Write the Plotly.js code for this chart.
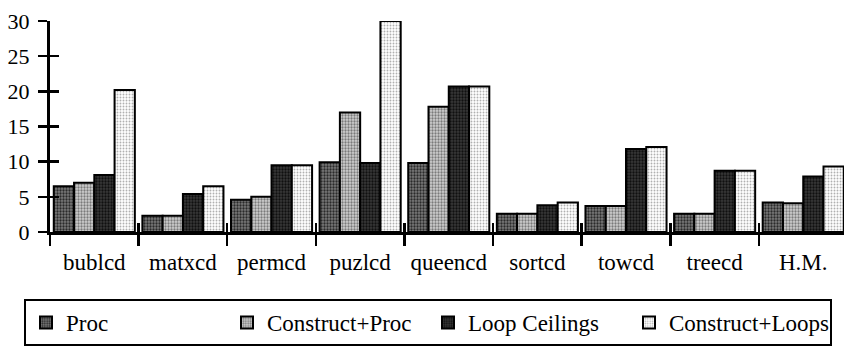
<!DOCTYPE html>
<html>
<head>
<meta charset="utf-8">
<script src="https://cdn.plot.ly/plotly-3.0.1.min.js"></script>
<style>
  html, body { margin: 0; padding: 0; background: #fff; overflow: hidden; }
  #chart { width: 844px; height: 351px; }
</style>
</head>
<body>
<div id="chart"></div>
<script>
// Benchmarks along the x axis
const categories = ['bublcd', 'matxcd', 'permcd', 'puzlcd', 'queencd', 'sortcd', 'towcd', 'treecd', 'H.M.'];

// One value per benchmark for each configuration
const proc           = [6.5, 2.3, 4.6,  9.9,  9.8, 2.6, 3.7,  2.6, 4.2];
const constructProc  = [7.0, 2.3, 5.0, 17.0, 17.8, 2.6, 3.7,  2.6, 4.1];
const loopCeilings   = [8.1, 5.4, 9.5,  9.8, 20.7, 3.8, 11.8, 8.7, 7.9];
const constructLoops = [20.2, 6.5, 9.5, 30.0, 20.7, 4.2, 12.1, 8.7, 9.3];

const seriesNames = ['Proc', 'Construct+Proc', 'Loop Ceilings', 'Construct+Loops'];

const FONT = '"Liberation Serif", "Times New Roman", Times, serif';

// Stippled fills for each series
const fills = [
  { bg: '#7a7a7a', fg: '#2a2a2a', size: 3, solidity: 0.45 },
  { bg: '#d0d0d0', fg: '#7a7a7a', size: 3, solidity: 0.45 },
  { bg: '#383838', fg: '#101010', size: 3, solidity: 0.45 },
  { bg: '#ffffff', fg: '#b0b0b0', size: 3, solidity: 0.3 }
];

const values = [proc, constructProc, loopCeilings, constructLoops];

const traces = values.map((vals, i) => ({
  type: 'bar',
  name: seriesNames[i],
  x: categories,
  y: vals,
  xaxis: 'x',
  yaxis: 'y',
  marker: {
    color: fills[i].bg,
    line: { color: '#000', width: 2 },
    pattern: {
      shape: '.',
      fillmode: 'replace',
      bgcolor: fills[i].bg,
      fgcolor: fills[i].fg,
      size: fills[i].size,
      solidity: fills[i].solidity
    }
  },
  hoverinfo: 'x+y+name'
}));

// Invisible carrier trace so the overlay axes (ticks crossing the axis lines) know the categories
traces.push({
  type: 'scatter',
  mode: 'none',
  x: categories,
  y: categories.map(() => 0),
  xaxis: 'x2',
  yaxis: 'y2',
  showlegend: false,
  hoverinfo: 'skip'
});

const xRange = [-0.5, 8.46];
const yRange = [0, 30];

const W = 844, H = 351;
const M = { l: 50, r: 0, t: 21, b: 119 };
const plotW = W - M.l - M.r;
const plotH = H - M.t - M.b;

const layout = {
  width: W,
  height: H,
  autosize: false,
  paper_bgcolor: '#fff',
  plot_bgcolor: '#fff',
  margin: { l: M.l, r: M.r, t: M.t, b: M.b, pad: 0, autoexpand: false },
  font: { family: FONT, size: 22, color: '#000' },
  barmode: 'group',
  bargap: 0.085,
  bargroupgap: 0,
  xaxis: {
    type: 'category',
    range: xRange,
    showline: true, linecolor: '#000', linewidth: 3,
    ticks: 'outside', tickson: 'boundaries', ticklen: 11, tickwidth: 2.5, tickcolor: '#000',
    showgrid: false, zeroline: false,
    tickfont: { family: FONT, size: 23, color: '#000' },
    ticklabelstandoff: 7
  },
  xaxis2: {
    type: 'category',
    overlaying: 'x',
    anchor: 'y2',
    range: xRange,
    showline: false,
    ticks: 'inside', tickson: 'boundaries', ticklen: 9, tickwidth: 2.5, tickcolor: '#000',
    showticklabels: false, showgrid: false, zeroline: false
  },
  yaxis: {
    range: yRange,
    dtick: 5,
    showline: true, linecolor: '#000', linewidth: 3,
    ticks: 'outside', ticklen: 9, tickwidth: 2.5, tickcolor: '#000',
    showgrid: false, zeroline: false,
    tickfont: { family: FONT, size: 22, color: '#000' },
    ticklabelstandoff: 4
  },
  yaxis2: {
    overlaying: 'y',
    anchor: 'x2',
    side: 'left',
    range: yRange,
    dtick: 5,
    showline: false,
    ticks: 'inside', ticklen: 9, tickwidth: 2.5, tickcolor: '#000',
    showticklabels: false, showgrid: false, zeroline: false
  },
  showlegend: true,
  legend: {
    orientation: 'h',
    xref: 'paper', yref: 'paper',
    x: (24 - M.l) / plotW,
    y: (H - M.b - 299) / plotH,
    xanchor: 'left', yanchor: 'top',
    bordercolor: '#000', borderwidth: 2,
    bgcolor: '#fff',
    font: { family: FONT, size: 23, color: '#000' },
    entrywidth: 156,
    entrywidthmode: 'pixels',
    traceorder: 'normal'
  }
};

Plotly.newPlot('chart', traces, layout, { displayModeBar: false, staticPlot: true });
</script>
</body>
</html>
